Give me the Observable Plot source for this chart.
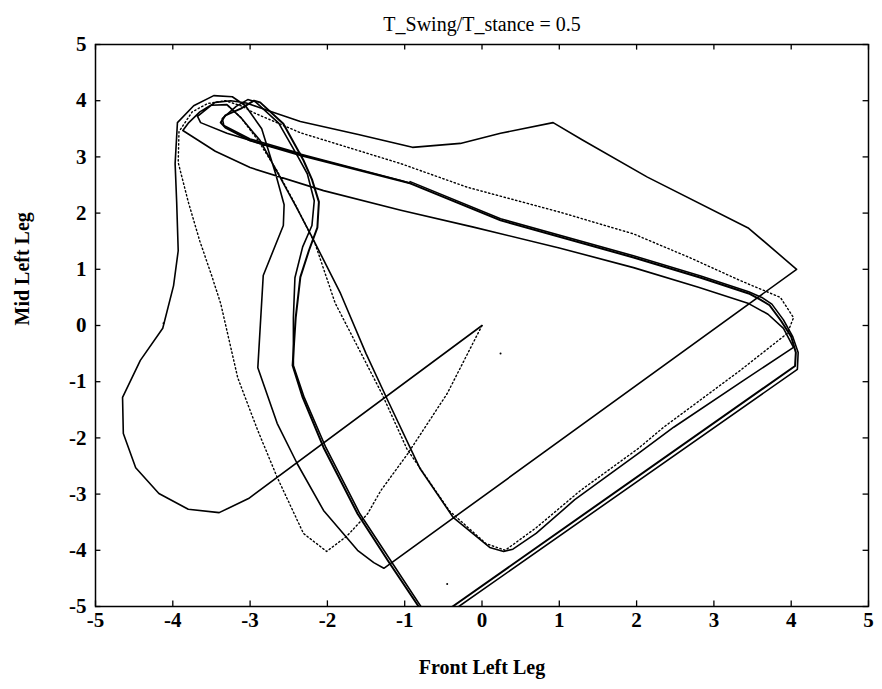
<!DOCTYPE html>
<html><head><meta charset="utf-8">
<script src="https://cdn.jsdelivr.net/npm/d3@7"></script>
<script src="https://cdn.jsdelivr.net/npm/@observablehq/plot@0.6"></script>
<style>body{margin:0;background:#fff} #chart{width:882px;height:689px}</style>
</head><body><div id="chart"></div>
<script>
const titleText = "T_Swing/T_stance = 0.5";
const xLabel = "Front Left Leg";
const yLabel = "Mid Left Leg";
const xTicks = [-5,-4,-3,-2,-1,0,1,2,3,4,5];
const yTicks = [-5,-4,-3,-2,-1,0,1,2,3,4,5];

// thin solid transient trajectory, starting at the origin
const transientPath = [
  [0,0],[-3.02,-3.08],[-3.4,-3.33],[-3.8,-3.27],[-4.18,-2.99],[-4.48,-2.53],[-4.64,-1.92],
  [-4.65,-1.28],[-4.42,-0.62],[-4.13,-0.05],[-3.99,0.71],[-3.93,1.33],[-3.95,2.2],[-3.97,2.88],
  [-3.94,3.61],[-3.73,3.91],[-3.47,4.09],[-3.23,4.07],[-3.06,3.91],[-2.85,3.5],[-2.67,2.7],
  [-2.56,2.15],[-2.57,1.78],[-2.83,0.89],[-2.9,-0.75],[-2.65,-1.74],[-2.39,-2.46],[-2.05,-3.29],
  [-1.61,-4.0],[-1.4,-4.22],[-1.27,-4.32],[4.07,1.0],[3.45,1.73],[2.14,2.64],[1.3,3.3],[0.92,3.61],
  [0.24,3.42],[-0.28,3.24],[-0.9,3.17],[-1.6,3.4],[-2.35,3.63],[-2.78,3.83],[-3.05,3.96],[-3.25,4.0],
  [-3.45,3.97],[-3.65,3.8],[-3.8,3.6],[-3.87,3.47],[-3.45,3.1],[-3.0,2.81],[-2.05,2.4],[-1.05,2.05],
  [-0.11,1.75],[1.0,1.38],[1.96,1.03],[2.8,0.68],[3.45,0.39],[3.7,0.2],[3.9,-0.05],[4.03,-0.39],
  [3.38,-0.98],[2.48,-1.81],[2.05,-2.25],[1.2,-3.1],[0.7,-3.7],[0.4,-3.98],[0.28,-4.02],[0.1,-3.95],
  [-0.37,-3.42],[-0.8,-2.55],[-1.22,-1.33],[-1.5,-0.5],[-1.83,0.57],[-2.19,1.55],[-2.4,2.1],
  [-2.61,2.63],[-2.87,3.29],[-3.12,3.7],[-3.3,3.93],[-3.5,3.92],[-3.68,3.72],[-3.64,3.61],
  [-3.3,3.42],[-2.87,3.24],[-1.05,2.58],[-0.93,2.53]
];

// first pass of the limit cycle (heavy band)
const cyclePass1 = [
  [-0.93,2.53],[0.24,1.87],[1.96,1.21],[2.83,0.85],[3.45,0.57],[3.6,0.46],[3.72,0.36],[3.87,0.08],
  [4.0,-0.2],[4.06,-0.48],[4.05,-0.72],[-0.38,-5.0],[-0.6,-5.25],[-0.82,-5.0],[-1.21,-4.2],
  [-1.61,-3.35],[-2.05,-2.17],[-2.32,-1.28],[-2.45,-0.71],[-2.41,0.14],[-2.35,0.86],[-2.24,1.33],
  [-2.13,1.74],[-2.11,2.2],[-2.2,2.6],[-2.31,2.94],[-2.57,3.59],[-2.87,3.97],[-2.95,4.0],
  [-3.12,3.86],[-3.32,3.74],[-3.38,3.61],[-3.32,3.52],[-3.0,3.29],[-2.35,3.03],[-0.93,2.53]
];

// second pass of the limit cycle, slightly offset
const cyclePass2 = [
  [-0.93,2.56],[0.24,1.9],[1.96,1.24],[2.83,0.88],[3.45,0.6],[3.62,0.5],[3.75,0.38],[3.9,0.1],
  [4.02,-0.2],[4.09,-0.48],[4.08,-0.78],[-0.3,-5.0],[-0.55,-5.3],[-0.79,-5.0],[-1.58,-3.35],
  [-2.02,-2.17],[-2.3,-1.28],[-2.44,-0.71],[-2.44,0.14],[-2.42,0.85],[-2.32,1.4],[-2.2,1.78],
  [-2.17,2.22],[-2.26,2.7],[-2.38,3.0],[-2.63,3.6],[-2.93,3.98],[-3.03,4.02],[-3.18,3.9],[-3.36,3.68],
  [-3.34,3.56],[-3.0,3.32],[-2.35,3.06]
];

// dotted trajectory, also starting at the origin
const dottedPath = [
  [0,0],[-0.45,-1.21],[-0.96,-2.28],[-1.31,-2.94],[-1.48,-3.35],[-1.75,-3.75],[-2.01,-4.02],
  [-2.31,-3.7],[-2.65,-2.7],[-2.9,-1.87],[-3.16,-0.93],[-3.38,0.39],[-3.5,0.9],[-3.65,1.5],
  [-3.8,2.2],[-3.93,2.9],[-3.92,3.45],[-3.75,3.8],[-3.55,3.95],[-3.32,4.0],[-3.1,3.9],[-2.96,3.79],
  [-2.35,3.43],[-1.05,2.88],[-0.19,2.46],[1.0,2.02],[1.96,1.63],[2.7,1.2],[3.34,0.8],[3.86,0.5],
  [4.03,0.14],[3.95,-0.14],[3.34,-0.8],[2.35,-1.81],[2.02,-2.19],[1.27,-2.94],[0.7,-3.6],
  [0.3,-4.0],[0.05,-3.88],[-0.42,-3.3],[-0.97,-2.2],[-1.3,-1.2],[-1.9,0.4],[-2.16,1.46],
  [-2.44,2.22],[-2.65,2.75],[-2.9,3.3],[-3.12,3.7],[-3.3,3.93]
];

const strayDots = [[-4.12,0.04],[0.24,-0.5],[-0.45,-4.6]];

const rows = pts => pts.map(([x, y]) => ({x, y}));
const font = "'Liberation Serif', 'Times New Roman', serif";

const plot = Plot.plot({
  width: 882, height: 689,
  marginTop: 44, marginBottom: 83, marginLeft: 95, marginRight: 14,
  x: {domain: [-5, 5], axis: null},
  y: {domain: [-5, 5], axis: null},
  style: {fontFamily: font, background: "white", color: "black"},
  marks: [
    Plot.line(rows(transientPath), {x: "x", y: "y", stroke: "black", strokeWidth: 1.6, clip: true}),
    Plot.line(rows(cyclePass1), {x: "x", y: "y", stroke: "black", strokeWidth: 2, clip: true}),
    Plot.line(rows(cyclePass2), {x: "x", y: "y", stroke: "black", strokeWidth: 1.6, clip: true}),
    Plot.line(rows(dottedPath), {x: "x", y: "y", stroke: "black", strokeWidth: 1.4, strokeDasharray: "1.4,2.6", clip: true}),
    Plot.dot(rows(strayDots), {x: "x", y: "y", r: 1, fill: "black"}),
    Plot.frame({stroke: "black", strokeWidth: 1.5}),
    Plot.ruleX(xTicks, {x: d => d, y1: -5, y2: -4.9, stroke: "black", strokeWidth: 1.3}),
    Plot.ruleX(xTicks, {x: d => d, y1: 5, y2: 4.9, stroke: "black", strokeWidth: 1.3}),
    Plot.ruleY(yTicks, {y: d => d, x1: -5, x2: -4.93, stroke: "black", strokeWidth: 1.3}),
    Plot.ruleY(yTicks, {y: d => d, x1: 5, x2: 4.93, stroke: "black", strokeWidth: 1.3}),
    Plot.text(xTicks, {x: d => d, text: d => String(d), frameAnchor: "bottom", dy: 20, fontSize: 21, fontWeight: "bold", fill: "black"}),
    Plot.text(yTicks, {y: d => d, text: d => String(d), frameAnchor: "left", dx: -9, textAnchor: "end", fontSize: 21, fontWeight: "bold", fill: "black"}),
    Plot.text([xLabel], {text: d => d, frameAnchor: "bottom", dy: 67, fontSize: 20, fontWeight: "bold", fill: "black"}),
    Plot.text([yLabel], {text: d => d, frameAnchor: "left", dx: -73, rotate: -90, fontSize: 20, fontWeight: "bold", fill: "black"}),
    Plot.text([titleText], {text: d => d, frameAnchor: "top", dy: -28, fontSize: 20, fill: "black"})
  ]
});
document.getElementById("chart").appendChild(plot);
</script>
</body></html>
